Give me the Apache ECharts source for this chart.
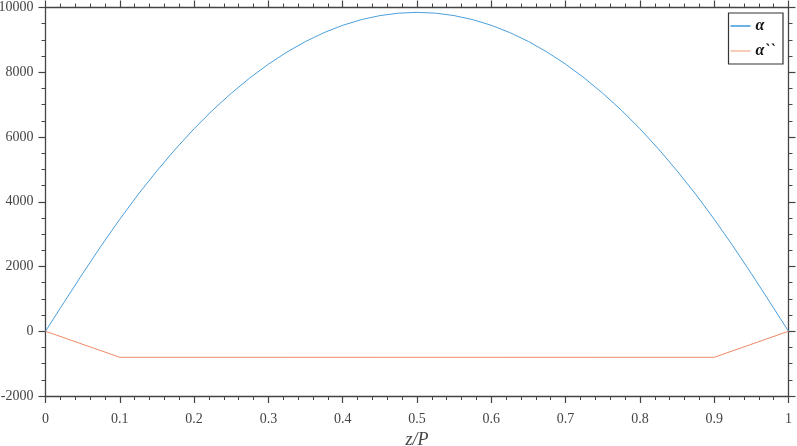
<!DOCTYPE html>
<html><head><meta charset="utf-8">
<script src="https://cdn.jsdelivr.net/npm/echarts@6/dist/echarts.min.js"></script>
<style>html,body{margin:0;padding:0;background:#fff}#c{width:797px;height:446px}</style>
</head><body><div id="c"></div>
<script>
const zValues = [0,0.025,0.05,0.075,0.1,0.125,0.15,0.175,0.2,0.225,0.25,0.275,0.3,0.325,0.35,0.375,0.4,0.425,0.45,0.475,0.5,
  0.525,0.55,0.575,0.6,0.625,0.65,0.675,0.7,0.725,0.75,0.775,0.8,0.825,0.85,0.875,0.9,0.925,0.95,0.975,1];
const alphaValues = [0,895,1780,2640,3460,4235,4955,5630,6255,6830,7350,7825,8250,8625,8950,9225,9450,9625,9750,9825,9850,
  9825,9750,9625,9450,9225,8950,8625,8250,7825,7350,6830,6255,5630,4955,4235,3460,2640,1780,895,0];
const alpha2Z = [0,0.1,0.9,1];
const alpha2Values = [0,-805,-805,0];
const xTicks = [0,0.1,0.2,0.3,0.4,0.5,0.6,0.7,0.8,0.9,1];
const yTicks = [-2000,0,2000,4000,6000,8000,10000];

const font = 'Liberation Serif';
const axisColor = '#444';
function xAxisCfg(pos, showLabel){
  return {type:'value', position:pos, min:0, max:1, interval:0.1,
    axisLine:{show:true, onZero:false, lineStyle:{color:axisColor,width:1.3}},
    axisTick:{show:true, inside:false, length:7, lineStyle:{color:axisColor,width:1.2}},
    minorTick:{show:true, splitNumber:5, length:4, lineStyle:{color:axisColor,width:1}},
    splitLine:{show:false},
    axisLabel:{show:showLabel, margin:16, fontFamily:font, fontSize:14, color:'#444',
      formatter:v=>String(Math.round(v*10)/10)},
    name: showLabel ? 'z/P' : '', nameLocation:'middle', nameGap:33,
    nameTextStyle:{fontFamily:font, fontStyle:'italic', fontSize:18, color:'#444'}};
}
function yAxisCfg(pos, showLabel){
  return {type:'value', position:pos, min:-2000, max:10000, interval:2000,
    axisLine:{show:true, onZero:false, lineStyle:{color:axisColor,width:1.3}},
    axisTick:{show:true, inside:false, length:7, lineStyle:{color:axisColor,width:1.2}},
    minorTick:{show:true, splitNumber:4, length:4, lineStyle:{color:axisColor,width:1}},
    splitLine:{show:false},
    axisLabel:{show:showLabel, margin:12, fontFamily:font, fontSize:14, color:'#444',
      formatter:v=>String(v)}};
}
const chart = echarts.init(document.getElementById('c'));
chart.setOption({
  animation:false,
  backgroundColor:'#fff',
  grid:{left:45.5, right:8.5, top:7.5, bottom:50, containLabel:false, outerBoundsMode:'none'},
  xAxis:[xAxisCfg('bottom',true), xAxisCfg('top',false)],
  yAxis:[yAxisCfg('left',true), yAxisCfg('right',false)],
  legend:{orient:'vertical', right:14, top:13, padding:[5,8,5,2], itemGap:9, itemWidth:20, itemHeight:14,
    icon:'path://M0,0 L20,0 L20,1.6 L0,1.6 Z',
    borderColor:'#333', borderWidth:1.2, backgroundColor:'#fff', borderRadius:0,
    textStyle:{fontFamily:font, fontSize:16, fontStyle:'italic', fontWeight:'bold', color:'#111'},
    data:['α','α``']},
  series:[
    {name:'α', type:'line', symbol:'none', data:zValues.map((z,i)=>[z,alphaValues[i]]),
      lineStyle:{color:'#4a9fdc', width:1}, itemStyle:{color:'#4a9fdc'}},
    {name:'α``', type:'line', symbol:'none', data:alpha2Z.map((z,i)=>[z,alpha2Values[i]]),
      lineStyle:{color:'#ee8a66', width:1}, itemStyle:{color:'#f5c0a8'}}
  ]
});
</script></body></html>
